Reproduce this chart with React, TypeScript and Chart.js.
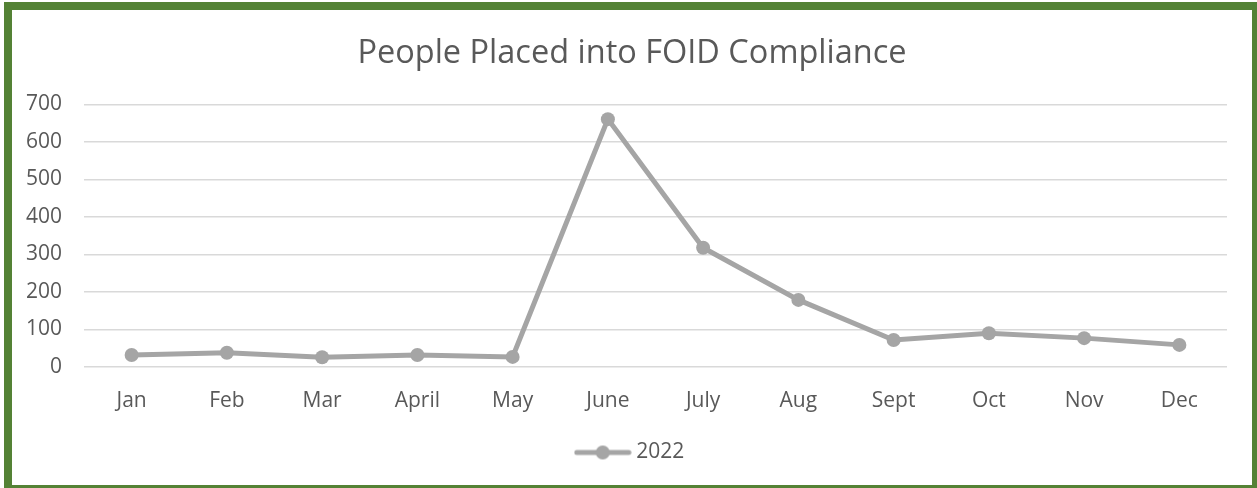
import { useEffect, useRef } from "react";
import { Chart, registerables } from "chart.js";

Chart.register(...registerables);

const months = ["Jan", "Feb", "Mar", "April", "May", "June", "July", "Aug", "Sept", "Oct", "Nov", "Dec"];
const values2022 = [32, 38, 26, 32, 27, 661, 318, 179, 72, 90, 77, 59];
const seriesLabel = "2022";
const titleText = "People Placed into FOID Compliance";
const yMin = 0;
const yMax = 700;
const yStep = 100;

const LINE = "#A5A5A5";
const TEXT = "#595959";
const GRID = "#D9D9D9";
const FONT = "'Open Sans', sans-serif";

function makeLegendMarker(): HTMLCanvasElement {
  const c = document.createElement("canvas");
  c.width = 58;
  c.height = 16;
  const ctx = c.getContext("2d")!;
  ctx.strokeStyle = LINE;
  ctx.lineWidth = 5;
  ctx.lineCap = "round";
  ctx.beginPath();
  ctx.moveTo(3, 8);
  ctx.lineTo(55, 8);
  ctx.stroke();
  ctx.fillStyle = LINE;
  ctx.beginPath();
  ctx.arc(29, 8, 7, 0, Math.PI * 2);
  ctx.fill();
  return c;
}

export default function App() {
  const ref = useRef<HTMLCanvasElement>(null);

  useEffect(() => {
    if (!ref.current) return;
    const marker = makeLegendMarker();
    const chart = new Chart(ref.current, {
      type: "line",
      data: {
        labels: months,
        datasets: [
          {
            label: seriesLabel,
            data: values2022,
            borderColor: LINE,
            backgroundColor: LINE,
            borderWidth: 5,
            pointRadius: 7,
            pointHoverRadius: 7,
            pointBackgroundColor: LINE,
            pointBorderWidth: 0,
            tension: 0,
          },
        ],
      },
      options: {
        responsive: false,
        maintainAspectRatio: false,
        animation: false,
        layout: { padding: { left: 0, right: 0, top: 0, bottom: 12 } },
        plugins: {
          title: {
            display: true,
            text: titleText,
            color: TEXT,
            font: { family: FONT, size: 32.5, weight: "normal" },
            padding: { top: 24.5, bottom: 31 },
          },
          legend: {
            display: true,
            position: "bottom",
            labels: {
              usePointStyle: true,
              pointStyle: marker as any,
              pointStyleWidth: 46,
              color: TEXT,
              font: { family: FONT, size: 21 },
              padding: 10,
            },
          },
          tooltip: { enabled: false },
        },
        scales: {
          x: {
            offset: true,
            grid: { display: false },
            border: { display: false },
            ticks: { color: TEXT, font: { family: FONT, size: 21 }, padding: 13, maxRotation: 0 },
            afterFit: (s: any) => {
              s.height = 65;
            },
          },
          y: {
            min: yMin,
            max: yMax,
            grid: { color: GRID, lineWidth: 1.5, drawTicks: false },
            border: { display: false },
            ticks: { stepSize: yStep, color: TEXT, font: { family: FONT, size: 21 }, padding: 22 },
            afterFit: (s: any) => {
              s.width = 72;
            },
          },
          yRightSpace: {
            position: "right",
            display: true,
            min: yMin,
            max: yMax,
            grid: { display: false },
            border: { display: false },
            ticks: { display: false },
            afterFit: (s: any) => {
              s.width = 25;
            },
          },
        },
      },
    });
    return () => chart.destroy();
  }, []);

  return (
    <div style={{ position: "fixed", left: 0, top: 0, width: 1257, height: 488, background: "#fff" }}>
      <div style={{ position: "absolute", left: 4, top: 2, width: 1253, height: 486, background: "#548235" }} />
      <div style={{ position: "absolute", left: 12, top: 10, width: 1240, height: 475, background: "#fff" }}>
        <canvas ref={ref} width={1240} height={475} style={{ display: "block" }} />
      </div>
    </div>
  );
}
